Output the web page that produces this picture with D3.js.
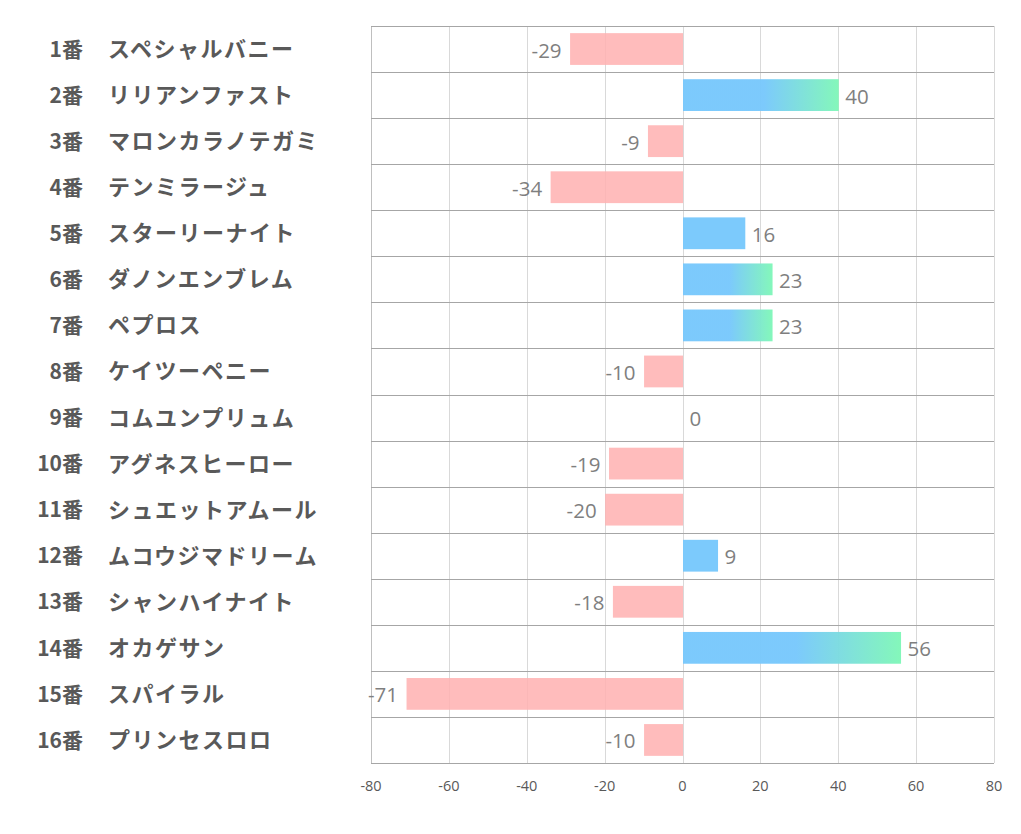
<!DOCTYPE html>
<html><head><meta charset="utf-8">
<script src="https://cdn.jsdelivr.net/npm/d3@7"></script>
<style>body{margin:0;background:#fff}svg{display:block}</style>
</head><body>
<svg id="c" width="1021" height="834"></svg>
<script>
const numbers = ["1番","2番","3番","4番","5番","6番","7番","8番","9番","10番","11番","12番","13番","14番","15番","16番"];
const names = ["スペシャルバニー","リリアンファスト","マロンカラノテガミ","テンミラージュ","スターリーナイト","ダノンエンブレム","ペプロス","ケイツーペニー","コムユンプリュム","アグネスヒーロー","シュエットアムール","ムコウジマドリーム","シャンハイナイト","オカゲサン","スパイラル","プリンセスロロ"];
const values = [-29,40,-9,-34,16,23,23,-10,0,-19,-20,9,-18,56,-71,-10];
const ticks = [-80,-60,-40,-20,0,20,40,60,80];

const svg = d3.select("#c");
const L=371, R=994, T=26, B=763;
const x = d3.scaleLinear().domain([-80,80]).range([L,R]);
const y = d3.scaleBand().domain(d3.range(values.length)).range([T,B]).paddingInner(0.31).paddingOuter(0.155);
const rowY = d3.scaleBand().domain(d3.range(values.length)).range([T,B]);

const defs = svg.append("defs");
const grad = defs.append("linearGradient").attr("id","g").attr("x1","0").attr("x2","1").attr("y1","0").attr("y2","0");
grad.append("stop").attr("offset","0").attr("stop-color","#78c8fc");
grad.append("stop").attr("offset","0.52").attr("stop-color","#78c8fc");
grad.append("stop").attr("offset","1").attr("stop-color","#80f7b8");

// vertical grid
svg.append("g").selectAll("line").data(ticks).join("line")
  .attr("x1",d=>Math.round(x(d))+0.5).attr("x2",d=>Math.round(x(d))+0.5).attr("y1",T).attr("y2",B)
  .attr("stroke",d=>d===-80?"#bfbfbf":"#d9d9d9").attr("stroke-width",1);
// horizontal row lines
svg.append("g").selectAll("line").data(d3.range(values.length+1)).join("line")
  .attr("x1",L).attr("x2",R)
  .attr("y1",i=>Math.round(T+i*rowY.step())+0.5).attr("y2",i=>Math.round(T+i*rowY.step())+0.5)
  .attr("stroke","#a6a6a6").attr("stroke-width",1);

// bars
svg.append("g").selectAll("rect").data(values).join("rect")
  .attr("x",d=>x(Math.min(0,d))+0.5).attr("width",d=>Math.abs(x(d)-x(0)))
  .attr("y",(d,i)=>y(i)).attr("height",y.bandwidth())
  .attr("fill",d=>d<0?"#ffb0b0":(d>=20?"url(#g)":"#78c8fc"))
  .attr("fill-opacity",d=>d<0?0.85:0.97);

// value labels
svg.append("g").selectAll("text").data(values).join("text")
  .attr("x",d=>d<0?x(d)-8:x(d)+7)
  .attr("y",(d,i)=>y(i)+y.bandwidth()/2+3)
  .attr("text-anchor",d=>d<0?"end":"start")
  .attr("dominant-baseline","middle")
  .attr("font-family","'Open Sans','Noto Sans',sans-serif").attr("font-size",20.5)
  .attr("fill","#7f7f7f").text(d=>d);

// category labels
const lab = svg.append("g").attr("font-family","'Noto Sans CJK JP',sans-serif").attr("font-weight","bold").attr("fill","#595959");
lab.selectAll("text.n").data(numbers).join("text").attr("class","n")
  .attr("x",83).attr("y",(d,i)=>rowY(i)+rowY.bandwidth()/2+2).attr("dominant-baseline","middle")
  .attr("font-size",21).attr("text-anchor","end").text(d=>d);
lab.selectAll("text.m").data(names).join("text").attr("class","m")
  .attr("x",108).attr("y",(d,i)=>rowY(i)+rowY.bandwidth()/2+2).attr("dominant-baseline","middle")
  .attr("font-size",22).attr("letter-spacing",1.5).text(d=>d);

// x axis tick labels
svg.append("g").selectAll("text").data(ticks).join("text")
  .attr("x",d=>x(d)).attr("y",791).attr("text-anchor","middle")
  .attr("font-family","'Open Sans','Noto Sans',sans-serif").attr("font-size",14.5).attr("fill","#595959")
  .text(d=>d);
</script>
</body></html>
